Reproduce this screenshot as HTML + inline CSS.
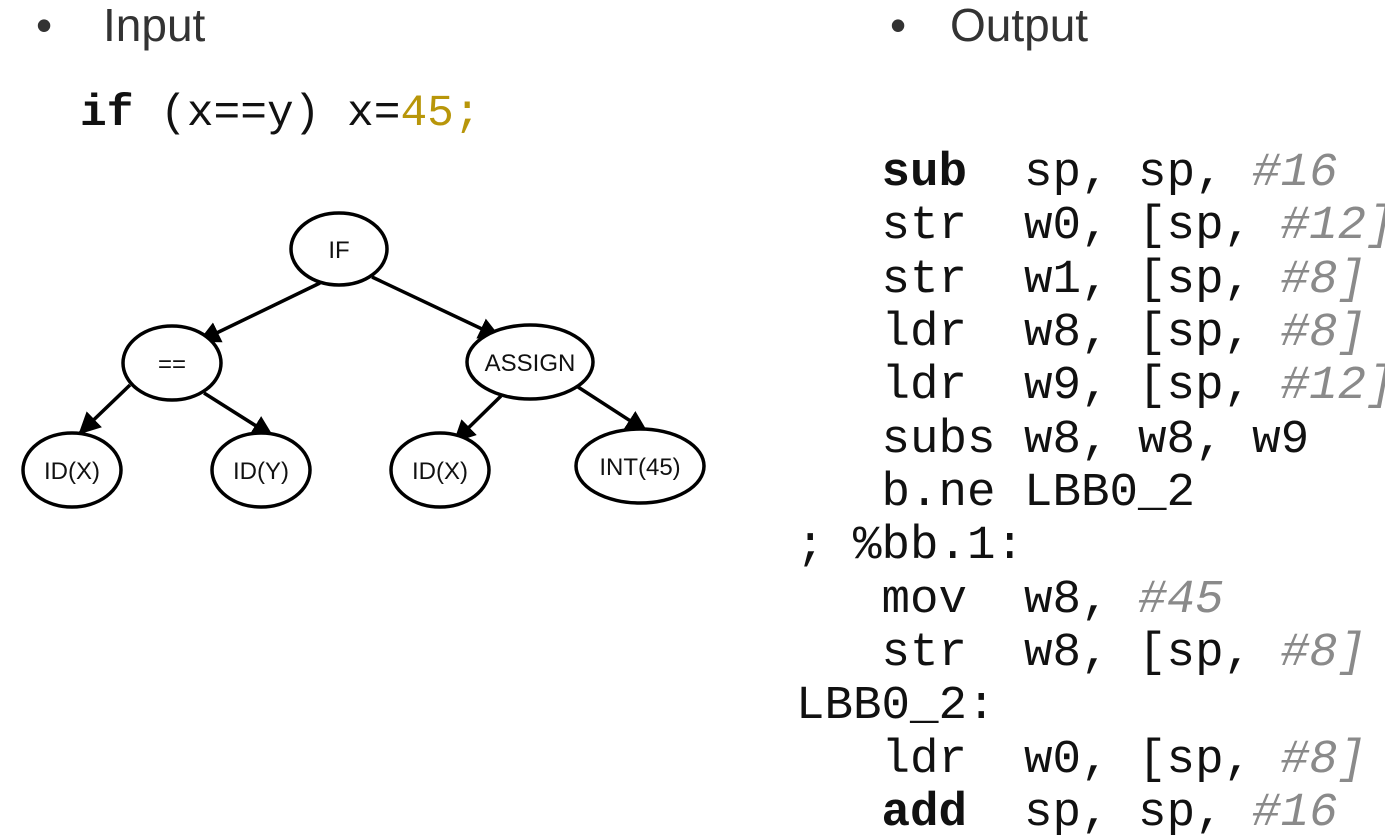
<!DOCTYPE html>
<html><head><meta charset="utf-8"><style>
body{margin:0;width:1385px;height:839px;background:#fff;position:relative;overflow:hidden;font-family:"Liberation Sans",sans-serif}
.t{position:absolute;font-size:46px;color:#333;line-height:50px}
.code{position:absolute;left:796px;top:147px;font-family:"Liberation Mono",monospace;font-size:47.5px;line-height:53.33px;white-space:pre;color:#111}
.g{color:#8a8a8a;font-style:italic}
.b{font-weight:bold}
</style></head><body>
<div class="t" style="left:36px;top:0">•</div>
<div class="t" style="left:103px;top:0">Input</div>
<div class="t" style="left:890px;top:0">•</div>
<div class="t" style="left:950px;top:0">Output</div>
<div style="position:absolute;left:80px;top:89px;font-family:'Liberation Mono',monospace;font-size:44.5px;line-height:50px;white-space:pre;color:#111"><span class="b">if</span> (x==y) x=<span style="color:#b8960a">45;</span></div>
<svg style="position:absolute;left:0;top:0" width="760" height="560">
<defs><marker id="h" viewBox="0 0 10 10" refX="9" refY="5" markerWidth="22" markerHeight="22" markerUnits="userSpaceOnUse" orient="auto"><path d="M0,0L10,5L0,10z"/></marker></defs>
<g stroke="#000" stroke-width="3.5" fill="none" marker-end="url(#h)">
<line x1="320" y1="283" x2="200" y2="341"/>
<line x1="372" y1="277" x2="499" y2="337"/>
<line x1="130" y1="385" x2="80" y2="433"/>
<line x1="204" y1="393" x2="272" y2="436"/>
<line x1="501" y1="396" x2="455" y2="441"/>
<line x1="578" y1="387" x2="646" y2="431"/>
</g>
<g stroke="#000" stroke-width="3.5" fill="#fff">
<ellipse cx="339" cy="249" rx="48" ry="36"/>
<ellipse cx="172" cy="363" rx="49" ry="37"/>
<ellipse cx="530" cy="362" rx="63" ry="37"/>
<ellipse cx="72" cy="470" rx="49" ry="37"/>
<ellipse cx="261" cy="470" rx="49" ry="37"/>
<ellipse cx="440" cy="470" rx="49" ry="37"/>
<ellipse cx="640" cy="466" rx="64" ry="37"/>
</g>
<g font-family="Liberation Sans,sans-serif" font-size="24" text-anchor="middle" fill="#111" textLength="">
<text x="339" y="258">IF</text>
<text x="172" y="372">==</text>
<text x="530" y="371">ASSIGN</text>
<text x="72" y="479">ID(X)</text>
<text x="261" y="479">ID(Y)</text>
<text x="440" y="479">ID(X)</text>
<text x="640" y="475">INT(45)</text>
</g>
</svg>
<div class="code">   <span class="b">sub</span>  sp, sp, <span class="g">#16</span>
   str  w0, [sp, <span class="g">#12]</span>
   str  w1, [sp, <span class="g">#8]</span>
   ldr  w8, [sp, <span class="g">#8]</span>
   ldr  w9, [sp, <span class="g">#12]</span>
   subs w8, w8, w9
   b.ne LBB0_2
; %bb.1:
   mov  w8, <span class="g">#45</span>
   str  w8, [sp, <span class="g">#8]</span>
LBB0_2:
   ldr  w0, [sp, <span class="g">#8]</span>
   <span class="b">add</span>  sp, sp, <span class="g">#16</span></div>
</body></html>
